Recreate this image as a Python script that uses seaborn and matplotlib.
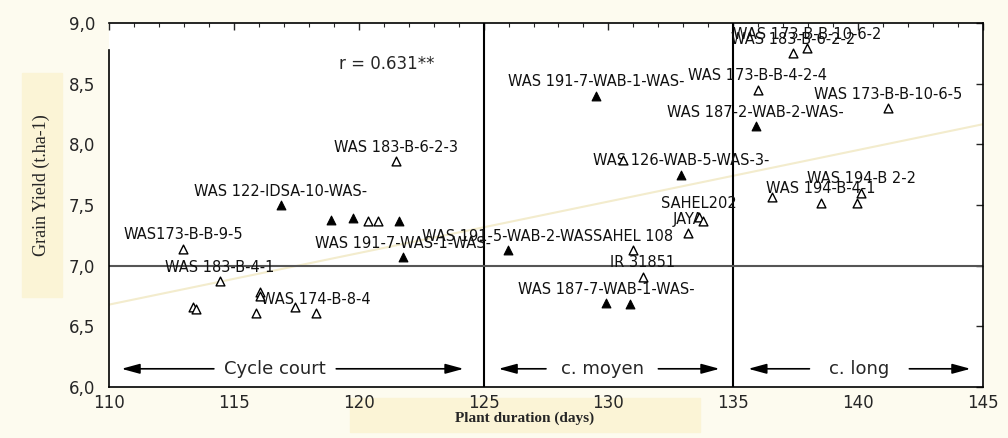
import matplotlib
matplotlib.use("Agg")
import matplotlib.pyplot as plt
import matplotlib.patches as mpatches
from matplotlib.ticker import MultipleLocator, FuncFormatter
import seaborn as sns
import pandas as pd

# filled triangles
filled_days = [116.88, 118.9, 119.77, 121.6, 121.76, 125.97, 129.5, 129.9, 130.87, 132.9, 135.9]
filled_yield = [7.50, 7.38, 7.39, 7.37, 7.07, 7.13, 8.40, 6.69, 6.68, 7.75, 8.15]
filled_names = ["WAS 122-IDSA-10-WAS-", "", "", "", "WAS 191-7-WAS-1-WAS-",
                "WAS 191-5-WAB-2-WAS", "WAS 191-7-WAB-1-WAS-", "WAS 187-7-WAB-1-WAS-",
                "", "WAS 126-WAB-5-WAS-3-", "WAS 187-2-WAB-2-WAS-"]

# open triangles
open_days = [112.97, 113.35, 113.47, 114.44, 115.9, 116.04, 116.04, 117.44, 118.3,
             120.37, 120.77, 121.5, 130.6, 130.97, 131.37, 133.17, 133.64, 133.77,
             135.97, 136.55, 137.4, 137.97, 138.5, 139.97, 140.13, 141.2]
open_yield = [7.14, 6.66, 6.64, 6.87, 6.61, 6.78, 6.75, 6.66, 6.61,
              7.37, 7.37, 7.86, 7.87, 7.13, 6.91, 7.27, 7.40, 7.37,
              8.45, 7.57, 8.75, 8.79, 7.52, 7.52, 7.60, 8.30]
open_names = ["WAS173-B-B-9-5", "", "", "WAS 183-B-4-1", "", "", "", "", "WAS 174-B-8-4",
              "", "", "WAS 183-B-6-2-3", "", "SAHEL 108", "IR 31851", "JAYA", "SAHEL202", "",
              "WAS 173-B-B-4-2-4", "", "WAS 183-B-6-2-2", "WAS 173-B-B-10-6-2",
              "WAS 194-B-4-1", "", "WAS 194-B 2-2", "WAS 173-B-B-10-6-5"]

# cycle groups
cycle_names = ["Cycle court", "c. moyen", "c. long"]
cycle_start = [110.5, 125.6, 135.6]
cycle_end = [124.2, 134.45, 144.5]
cycle_mid = [116.65, 129.75, 140.05]
cycle_gap = [2.45, 2.25, 2.0]
cycle_bounds = [125, 135]
yield_ref = 7.0
r_text = "r = 0.631**"

sns.set_style("white")
plt.rcParams['font.family'] = ['DejaVu Sans']

fig = plt.figure(figsize=(10.08, 4.38), dpi=100)
fig.patch.set_facecolor('#fdfbef')

# label highlight boxes (behind everything)
fig.patches.append(mpatches.Rectangle((350 / 1008, 6 / 438), 350 / 1008, 34 / 438,
                                      transform=fig.transFigure, color='#fbf4d6', zorder=-5))
fig.patches.append(mpatches.Rectangle((22 / 1008, 1 - 297 / 438), 40 / 1008, 224 / 438,
                                      transform=fig.transFigure, color='#fbf4d6', zorder=-5))

ax = fig.add_axes([109 / 1008, 1 - 387 / 438, 874 / 1008, 364 / 438])
ax.set_facecolor('white')

ax.set_xlim(110, 145)
ax.set_ylim(6.0, 9.0)

all_days = filled_days + open_days
all_yield = filled_yield + open_yield
sns.regplot(x=all_days, y=all_yield, scatter=False, ci=None, truncate=False, ax=ax,
            line_kws=dict(color='#f3eccd', lw=1.5, zorder=1))

for b in cycle_bounds:
    ax.axvline(b, color='black', lw=1.5, zorder=2)
ax.axhline(yield_ref, color='#555555', lw=1.5, zorder=2)

df_f = pd.DataFrame({"days": filled_days, "grain": filled_yield})
df_o = pd.DataFrame({"days": open_days, "grain": open_yield})
sns.scatterplot(data=df_o, x="days", y="grain", marker="^", s=40, facecolor="white",
                edgecolor="black", linewidth=1.0, ax=ax, zorder=4)
sns.scatterplot(data=df_f, x="days", y="grain", marker="^", s=40, color="black",
                edgecolor="black", linewidth=0.8, ax=ax, zorder=4)

for xs, ys, names in [(filled_days, filled_yield, filled_names), (open_days, open_yield, open_names)]:
    for x, y, n in zip(xs, ys, names):
        if n:
            ax.annotate(n, (x, y), xytext=(0, 10), textcoords="offset points",
                        ha="center", va="center", fontsize=10.5, color="#111111", zorder=3)

ax.text(119.2, 8.66, r_text, fontsize=12, va="center", ha="left")

arrow = dict(arrowstyle="-|>,head_length=1.1,head_width=0.3", color="black", lw=1.2,
             shrinkA=0, shrinkB=0)
for name, s, e, m, g in zip(cycle_names, cycle_start, cycle_end, cycle_mid, cycle_gap):
    ax.annotate("", xy=(s, 6.15), xytext=(m - g, 6.15), arrowprops=arrow)
    ax.annotate("", xy=(e, 6.15), xytext=(m + g, 6.15), arrowprops=arrow)
    ax.text(m, 6.15, name, ha="center", va="center", fontsize=13)

ax.xaxis.set_major_locator(MultipleLocator(5))
ax.xaxis.set_minor_locator(MultipleLocator(1))
ax.yaxis.set_major_locator(MultipleLocator(0.5))
ax.yaxis.set_minor_locator(MultipleLocator(0.1))
ax.yaxis.set_major_formatter(FuncFormatter(lambda v, p: f"{v:.1f}".replace(".", ",")))
ax.tick_params(which="both", direction="in", top=True, right=True, labelsize=12)
ax.tick_params(axis="y", pad=10)
ax.tick_params(axis="x", pad=5)
ax.tick_params(which="major", length=5, width=1)
ax.tick_params(which="minor", length=3, width=0.8, right=False)

for sp in ax.spines.values():
    sp.set_color("black")
    sp.set_linewidth(1.2)
ax.spines['left'].set_bounds(6.0, 8.78)

ax.set_xlabel("Plant duration (days)", family="Liberation Serif", fontweight="bold", fontsize=11)
ax.xaxis.label.set_va("center")
ax.xaxis.set_label_coords(0.475, -0.085)
ax.set_ylabel("Grain Yield (t.ha-1)", family="Liberation Serif", fontsize=13)
ax.yaxis.label.set_va("center")
ax.yaxis.set_label_coords(-0.077, 0.555)

fig.savefig("out.png", dpi=100, facecolor=fig.get_facecolor())
